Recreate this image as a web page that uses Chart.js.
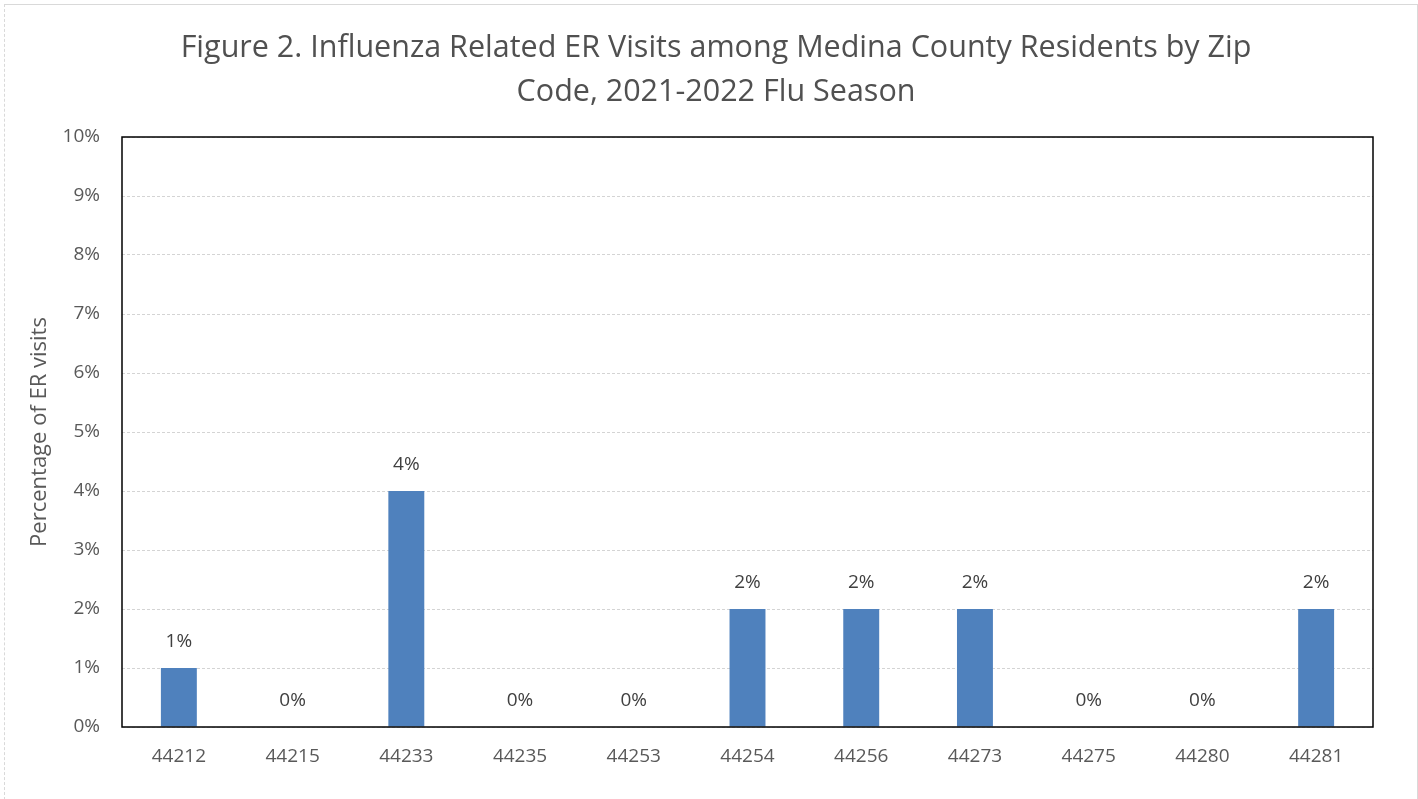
<!DOCTYPE html>
<html>
<head>
<meta charset="utf-8">
<script src="https://cdn.jsdelivr.net/npm/chart.js@4.4.1/dist/chart.umd.min.js"></script>
<style>
  html, body { margin: 0; padding: 0; background: #fff; }
  #wrap { position: relative; width: 1418px; height: 799px; }
  #frame {
    position: absolute; left: 4px; top: 4px; width: 1412px; height: 800px;
    border-top: 1px solid #d9d9d9; border-left: 1px dashed #d9d9d9; border-right: 1px solid #d9d9d9;
    pointer-events: none;
  }
</style>
</head>
<body>
<div id="wrap">
  <canvas id="myChart" width="1418" height="799"></canvas>
  <div id="frame"></div>
</div>
<script>
const zipCodes = ["44212", "44215", "44233", "44235", "44253", "44254", "44256", "44273", "44275", "44280", "44281"];
const erVisitPct = [1, 0, 4, 0, 0, 2, 2, 2, 0, 0, 2];
const titleLines = ["Figure 2. Influenza Related ER Visits among Medina County Residents by Zip", "Code, 2021-2022 Flu Season"];
const yAxisTitle = "Percentage of ER visits";

const fontFamily = "'Open Sans', 'Noto Sans', sans-serif";
const textGray = "#595959";

// chart title, centred a bit left of the plot like the original
const chartTitle = {
  id: "chartTitle",
  afterDraw(chart) {
    const ctx = chart.ctx;
    ctx.save();
    ctx.font = "30.5px " + fontFamily;
    ctx.fillStyle = "#505050";
    ctx.textAlign = "center";
    ctx.textBaseline = "middle";
    titleLines.forEach((line, i) => {
      ctx.fillText(line, 716, 48 + i * 44);
    });
    ctx.restore();
  },
};

// black box around the plot area
const plotBorder = {
  id: "plotBorder",
  afterDraw(chart) {
    const { ctx, chartArea: { left, top, width, height } } = chart;
    ctx.save();
    ctx.strokeStyle = "#000";
    ctx.lineWidth = 1.5;
    ctx.strokeRect(left, top, width, height);
    ctx.restore();
  },
};

// value labels above each bar
const barLabels = {
  id: "barLabels",
  afterDatasetsDraw(chart) {
    const ctx = chart.ctx;
    const meta = chart.getDatasetMeta(0);
    ctx.save();
    ctx.font = "19px " + fontFamily;
    ctx.fillStyle = "#404040";
    ctx.textAlign = "center";
    ctx.textBaseline = "middle";
    meta.data.forEach((bar, i) => {
      ctx.fillText(erVisitPct[i] + "%", bar.x, bar.y - 26);
    });
    ctx.restore();
  },
};

const data = {
  labels: zipCodes,
  datasets: [
    {
      data: erVisitPct,
      backgroundColor: "#4f81bd",
      barPercentage: 0.316,
      categoryPercentage: 1,
    },
  ],
};

const config = {
  type: "bar",
  data: data,
  options: {
    responsive: false,
    animation: false,
    layout: { padding: { left: 0, right: 45, top: 137, bottom: 0 } },
    plugins: {
      legend: { display: false },
      tooltip: { enabled: false },
      title: { display: false },
    },
    scales: {
      x: {
        grid: { display: false, drawTicks: false },
        border: { display: false },
        ticks: { color: textGray, font: { family: fontFamily, size: 19 }, padding: 18, maxRotation: 0 },
        afterFit(scale) { scale.height = 72; },
      },
      y: {
        min: 0,
        max: 10,
        ticks: {
          stepSize: 1,
          color: textGray,
          font: { family: fontFamily, size: 19 },
          padding: 22,
          callback: (v) => v + "%",
        },
        grid: { color: "#d4d4d4", drawTicks: false },
        border: { display: false, dash: [3, 2] },
        title: {
          display: true,
          text: yAxisTitle,
          color: textGray,
          font: { family: fontFamily, size: 22 },
          padding: { top: 27, bottom: 0 },
        },
        afterFit(scale) { scale.width = 122; },
      },
    },
  },
  plugins: [plotBorder, barLabels, chartTitle],
};

const myChart = new Chart(document.getElementById("myChart"), config);
</script>
</body>
</html>
